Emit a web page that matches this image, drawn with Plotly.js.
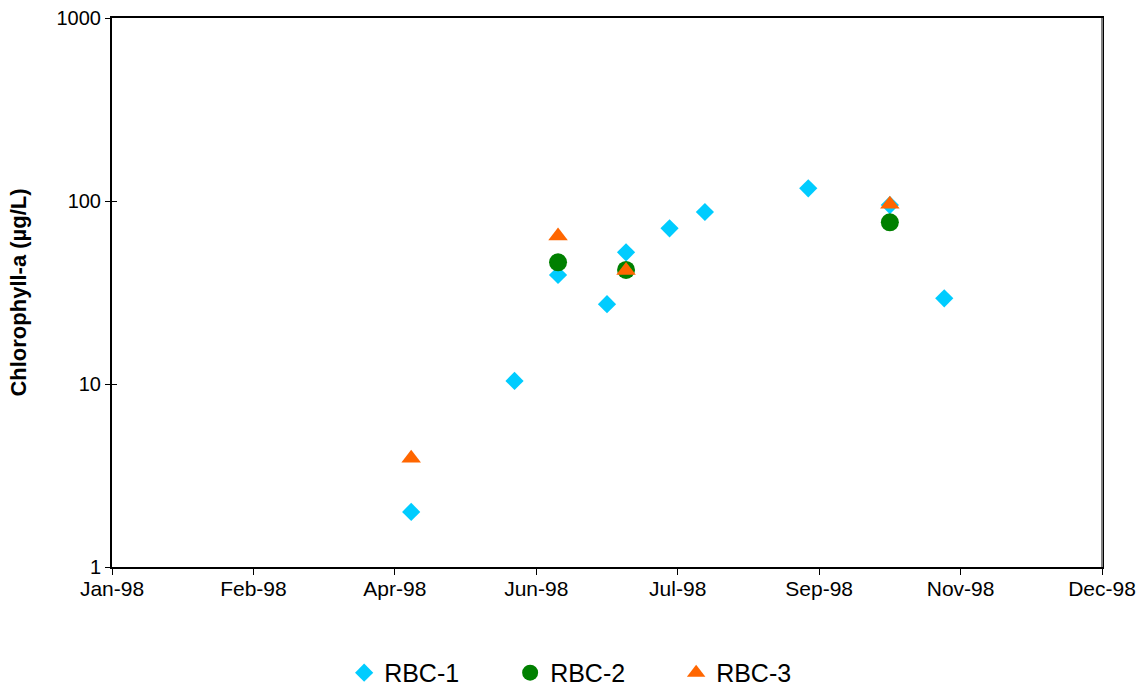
<!DOCTYPE html>
<html>
<head>
<meta charset="utf-8">
<script src="https://cdn.plot.ly/plotly-3.0.1.min.js"></script>
<style>html,body{margin:0;padding:0;background:#fff}#chart{width:1146px;height:690px}</style>
</head>
<body>
<div id="chart"></div>
<script>
var rbc1Dates = ['1998-04-21','1998-05-29','1998-06-14','1998-07-02','1998-07-09','1998-07-25','1998-08-07','1998-09-14','1998-10-14','1998-11-03'];
var rbc1Values = [2.0, 10.4, 39.4, 27.3, 52.4, 70.9, 87.1, 117.3, 95, 29.4];
var rbc2Dates = ['1998-06-14','1998-07-09','1998-10-14'];
var rbc2Values = [46.2, 42, 76.5];
var rbc3Dates = ['1998-04-21','1998-06-14','1998-07-09','1998-10-14'];
var rbc3Values = [3.93, 64.4, 41.7, 95.9];
var xTickVals = ['1998-01-01','1998-02-22','1998-04-15','1998-06-06','1998-07-28','1998-09-18','1998-11-09','1998-12-31'];
var xTickText = ['Jan-98','Feb-98','Apr-98','Jun-98','Jul-98','Sep-98','Nov-98','Dec-98'];
var yTickVals = [1, 10, 100, 1000];
var yTickText = ['1', '10', '100', '1000'];

var font = 'Liberation Sans, Arial, sans-serif';
var traces = [
  {x: rbc1Dates, y: rbc1Values, name: 'RBC-1', type: 'scatter', mode: 'markers',
   marker: {symbol: 'diamond', size: 14, color: '#00CCFF'}},
  {x: rbc2Dates, y: rbc2Values, name: 'RBC-2', type: 'scatter', mode: 'markers',
   marker: {symbol: 'circle', size: 18, color: '#008000'}},
  {x: rbc3Dates, y: rbc3Values, name: 'RBC-3', type: 'scatter', mode: 'markers',
   marker: {symbol: 'triangle-up', size: 17, color: '#FF6600'}},
  {x: [], y: [], yaxis: 'y2', showlegend: false, hoverinfo: 'skip', type: 'scatter'}
];
var layout = {
  width: 1146, height: 690,
  margin: {l: 112, r: 44, t: 18, b: 123, autoexpand: false},
  paper_bgcolor: '#fff', plot_bgcolor: '#fff',
  font: {family: font, size: 20, color: '#000'},
  showlegend: true,
  legend: {orientation: 'h', x: 0.486, xanchor: 'center', y: -0.193, yanchor: 'middle',
           font: {family: font, size: 25, color: '#000'}, itemwidth: 30,
           entrywidth: 121, entrywidthmode: 'pixels'},
  xaxis: {type: 'date', range: ['1998-01-01','1998-12-31'], tickmode: 'array',
          tickvals: xTickVals, ticktext: xTickText, ticks: 'outside', ticklen: 6,
          ticklabelstandoff: -4,
          tickcolor: '#000', showgrid: false, zeroline: false, showline: true,
          linecolor: '#000', linewidth: 2, mirror: true,
          tickfont: {family: font, size: 21, color: '#000'}},
  yaxis: {type: 'log', range: [0, 3], tickmode: 'array', tickvals: yTickVals, ticktext: yTickText,
          ticks: 'outside', ticklen: 5, tickcolor: '#000', showgrid: false, zeroline: false,
          showline: true, linecolor: '#000', linewidth: 2, mirror: true,
          tickfont: {family: font, size: 20, color: '#000'},
          title: {text: 'Chlorophyll-a (µg/L)', standoff: 24,
                  font: {family: font, size: 22, color: '#000', weight: 'bold'}}},
  yaxis2: {type: 'log', range: [0, 3], overlaying: 'y', tickmode: 'array', tickvals: yTickVals,
           ticks: 'inside', ticklen: 5, tickcolor: '#000', showticklabels: false,
           showgrid: false, zeroline: false, showline: false},
  shapes: [{type: 'line', xref: 'paper', yref: 'paper', x0: 1, x1: 1, y0: 0, y1: 1,
            line: {color: '#808080', width: 2}}]
};
Plotly.newPlot('chart', traces, layout, {displayModeBar: false, staticPlot: true});
</script>
</body>
</html>
